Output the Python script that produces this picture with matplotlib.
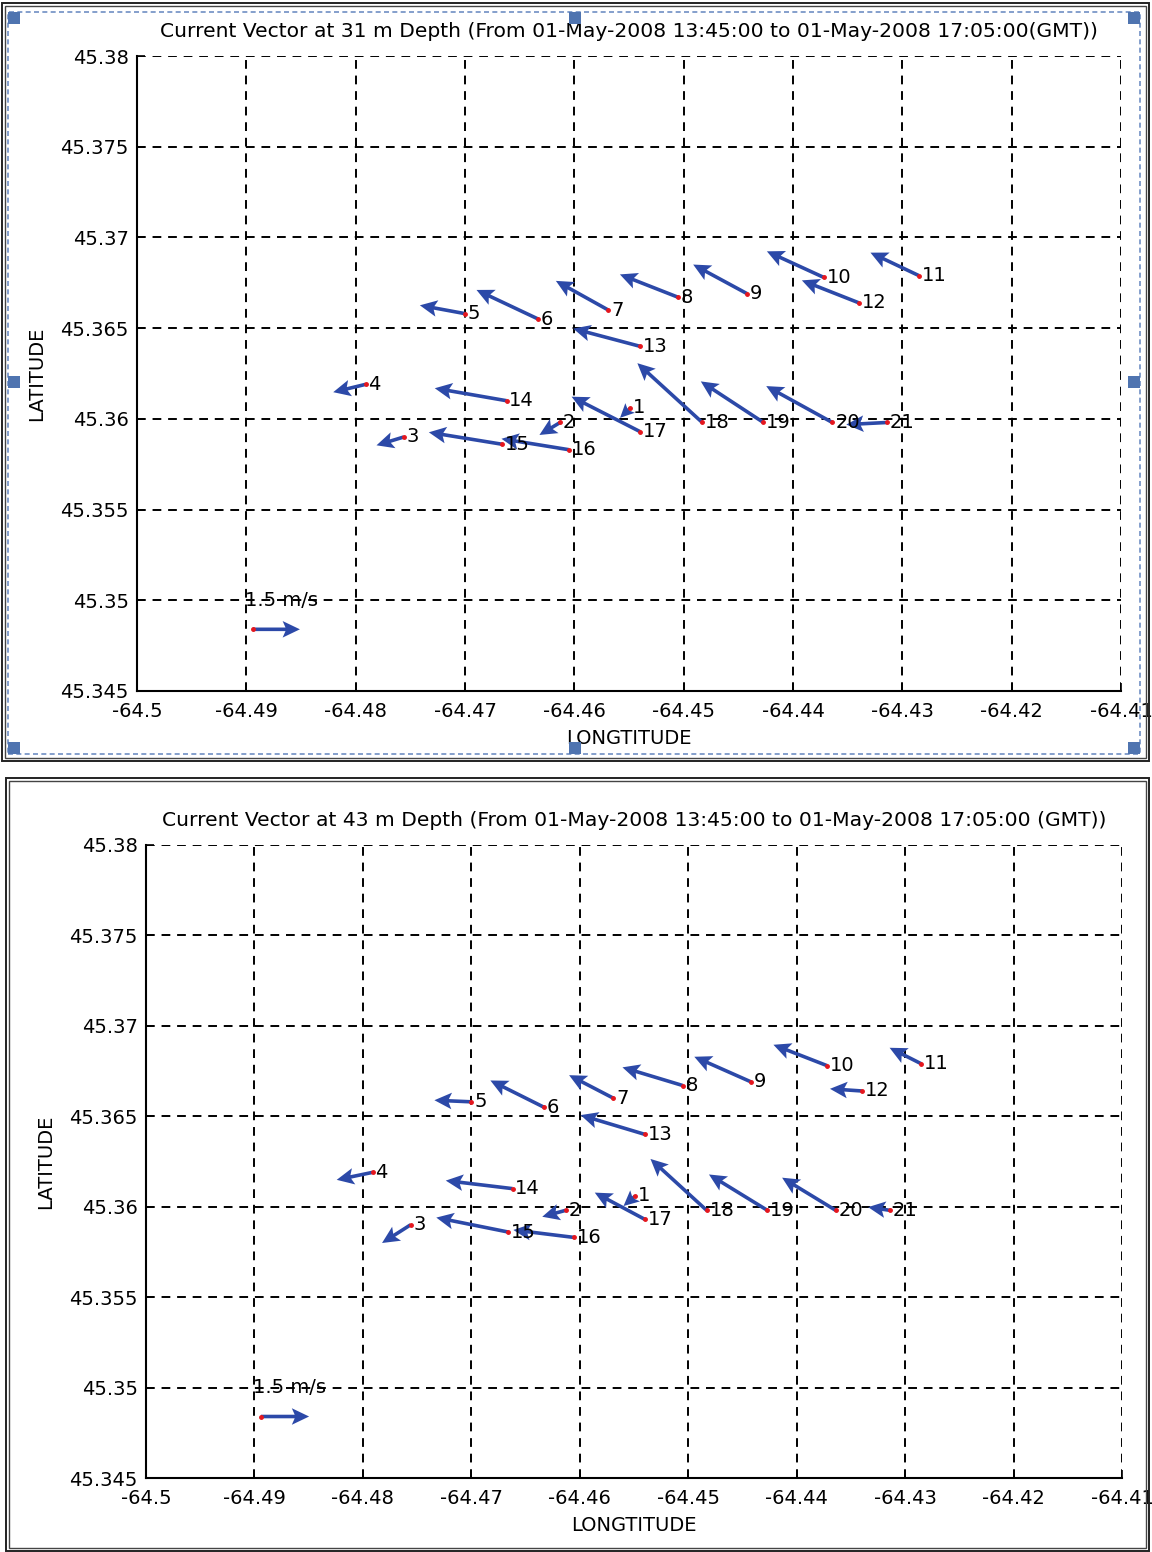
import matplotlib
matplotlib.use("Agg")
import matplotlib.pyplot as plt
from matplotlib.patches import Rectangle

plt.rcParams['font.family'] = ['DejaVu Sans']

# Station numbers and positions (degrees)
stations = list(range(1, 22))
lon = [-64.4549, -64.4613, -64.4756, -64.4791, -64.4700, -64.4633, -64.4569,
       -64.4505, -64.4442, -64.4372, -64.4285, -64.4340, -64.4540, -64.4662,
       -64.4666, -64.4605, -64.4540, -64.4483, -64.4427, -64.4364, -64.4314]
lat = [45.3606, 45.3598, 45.3590, 45.3619, 45.3658, 45.3655, 45.3660,
       45.3667, 45.3669, 45.3678, 45.3679, 45.3664, 45.3640, 45.3610,
       45.3586, 45.3583, 45.3593, 45.3598, 45.3598, 45.3598, 45.3598]

# Current components (m/s) at 31 m depth
u31 = [-0.32, -0.66, -0.87, -1.03, -1.44, -1.97, -1.67, -1.86, -1.72, -1.81, -1.54,
       -1.81, -2.13, -2.29, -2.34, -2.15, -2.18, -2.07, -2.00, -2.11, -1.30]
v31 = [-0.19, -0.24, -0.16, -0.15, 0.16, 0.56, 0.56, 0.44, 0.56, 0.50, 0.44,
       0.43, 0.34, 0.24, 0.23, 0.21, 0.67, 1.14, 0.79, 0.70, -0.04]

# Current components (m/s) at 43 m depth
u43 = [-0.36, -0.73, -0.89, -1.12, -1.15, -1.67, -1.38, -1.88, -1.77, -1.67, -0.99,
       -0.99, -2.00, -2.08, -2.24, -1.90, -1.56, -1.75, -1.82, -1.67, -0.68]
v43 = [-0.19, -0.12, -0.34, -0.14, 0.03, 0.50, 0.43, 0.34, 0.47, 0.39, 0.30,
       0.04, 0.36, 0.15, 0.27, 0.14, 0.50, 0.96, 0.67, 0.61, 0.06]

# Reference vector
ref_speed = 1.5
ref_lon, ref_lat = -64.4894, 45.3484
ref_text = "1.5 m/s"

xticks = [-64.5, -64.49, -64.48, -64.47, -64.46, -64.45, -64.44, -64.43, -64.42, -64.41]
xticklabels = ["-64.5", "-64.49", "-64.48", "-64.47", "-64.46", "-64.45",
               "-64.44", "-64.43", "-64.42", "-64.41"]
yticks = [45.345, 45.35, 45.355, 45.36, 45.365, 45.37, 45.375, 45.38]
yticklabels = ["45.345", "45.35", "45.355", "45.36", "45.365", "45.37", "45.375", "45.38"]

titles = ["Current Vector at 31 m Depth (From 01-May-2008 13:45:00 to 01-May-2008 17:05:00(GMT))",
          "Current Vector at 43 m Depth (From 01-May-2008 13:45:00 to 01-May-2008 17:05:00 (GMT))"]

W, H = 1152, 1552
fig = plt.figure(figsize=(W / 100, H / 100), dpi=100)
fig.patch.set_facecolor("white")

BLUE = "#2c49a8"
RED = "#e5161d"
FS = 14

ARROW = dict(angles="xy", scale_units="xy", color=BLUE, units="dots", width=3.6,
             headwidth=4.6, headlength=4.8, headaxislength=4.0, zorder=3)


def px_rect(x0, y0, x1, y1):
    """Figure-fraction rect [left, bottom, width, height] from pixel box."""
    return [x0 / W, 1 - y1 / H, (x1 - x0) / W, (y1 - y0) / H]


def draw_panel(box, u, v, scale, title):
    ax = fig.add_axes(px_rect(*box))
    ax.set_xlim(-64.5, -64.41)
    ax.set_ylim(45.345, 45.38)
    ax.set_xticks(xticks)
    ax.set_xticklabels(xticklabels)
    ax.set_yticks(yticks)
    ax.set_yticklabels(yticklabels)
    ax.tick_params(direction="in", length=6, width=1.2, labelsize=FS, pad=8,
                   colors="black")
    ax.tick_params(axis="y", pad=6)
    ax.grid(True, color="black", linestyle=(0, (4.5, 3.5)), linewidth=1.4)
    for side in ("top", "right"):
        ax.spines[side].set_visible(False)
    for side in ("left", "bottom"):
        ax.spines[side].set_linewidth(1.5)
    ax.set_xlabel("LONGTITUDE", fontsize=FS, labelpad=6)
    ax.set_ylabel("LATITUDE", fontsize=FS, labelpad=10)
    ax.set_title(title, fontsize=14.6, pad=14)

    ax.quiver(lon, lat, u, v, scale=scale, **ARROW)
    ax.plot(lon, lat, ".", color=RED, ms=5, zorder=4)
    for s, x, y in zip(stations, lon, lat):
        ax.annotate(str(s), (x, y), xytext=(2, 0), textcoords="offset points",
                    ha="left", va="center", fontsize=FS, zorder=5)

    ax.quiver([ref_lon], [ref_lat], [ref_speed], [0], scale=scale, **ARROW)
    ax.plot([ref_lon], [ref_lat], ".", color=RED, ms=5, zorder=4)
    ax.text(-64.4901, 45.3500, ref_text, ha="left", va="center", fontsize=FS,
            zorder=5)
    return ax


draw_panel((137, 56, 1121, 691), u31, v31, 1.5 / 0.0043, titles[0])
draw_panel((146, 845, 1122, 1478), u43, v43, 1.5 / 0.00444, titles[1])


def fig_rect(x0, y0, x1, y1, **kw):
    r = Rectangle((x0 / W, 1 - y1 / H), (x1 - x0) / W, (y1 - y0) / H,
                  transform=fig.transFigure, fill=kw.pop("fill", False), **kw)
    fig.add_artist(r)


# Window frames
fig_rect(2, 3, 1149, 761, edgecolor="#222222", linewidth=1.4)
fig_rect(5, 6, 1146, 758, edgecolor="#444444", linewidth=1.0)
fig_rect(8, 12, 1140, 754, edgecolor="#6f8fc4", linewidth=1.2, linestyle=(0, (3, 2)))
for hx, hy in [(8, 12), (569, 12), (1128, 12), (8, 376), (1128, 376),
               (8, 742), (569, 742), (1128, 742)]:
    fig_rect(hx, hy, hx + 12, hy + 12, edgecolor="none", facecolor="#4f74b0", fill=True)

fig_rect(6, 778, 1149, 1551, edgecolor="#222222", linewidth=1.4)
fig_rect(9, 781, 1146, 1548, edgecolor="#444444", linewidth=1.0)

fig.savefig("out.png", dpi=100, facecolor="white")
